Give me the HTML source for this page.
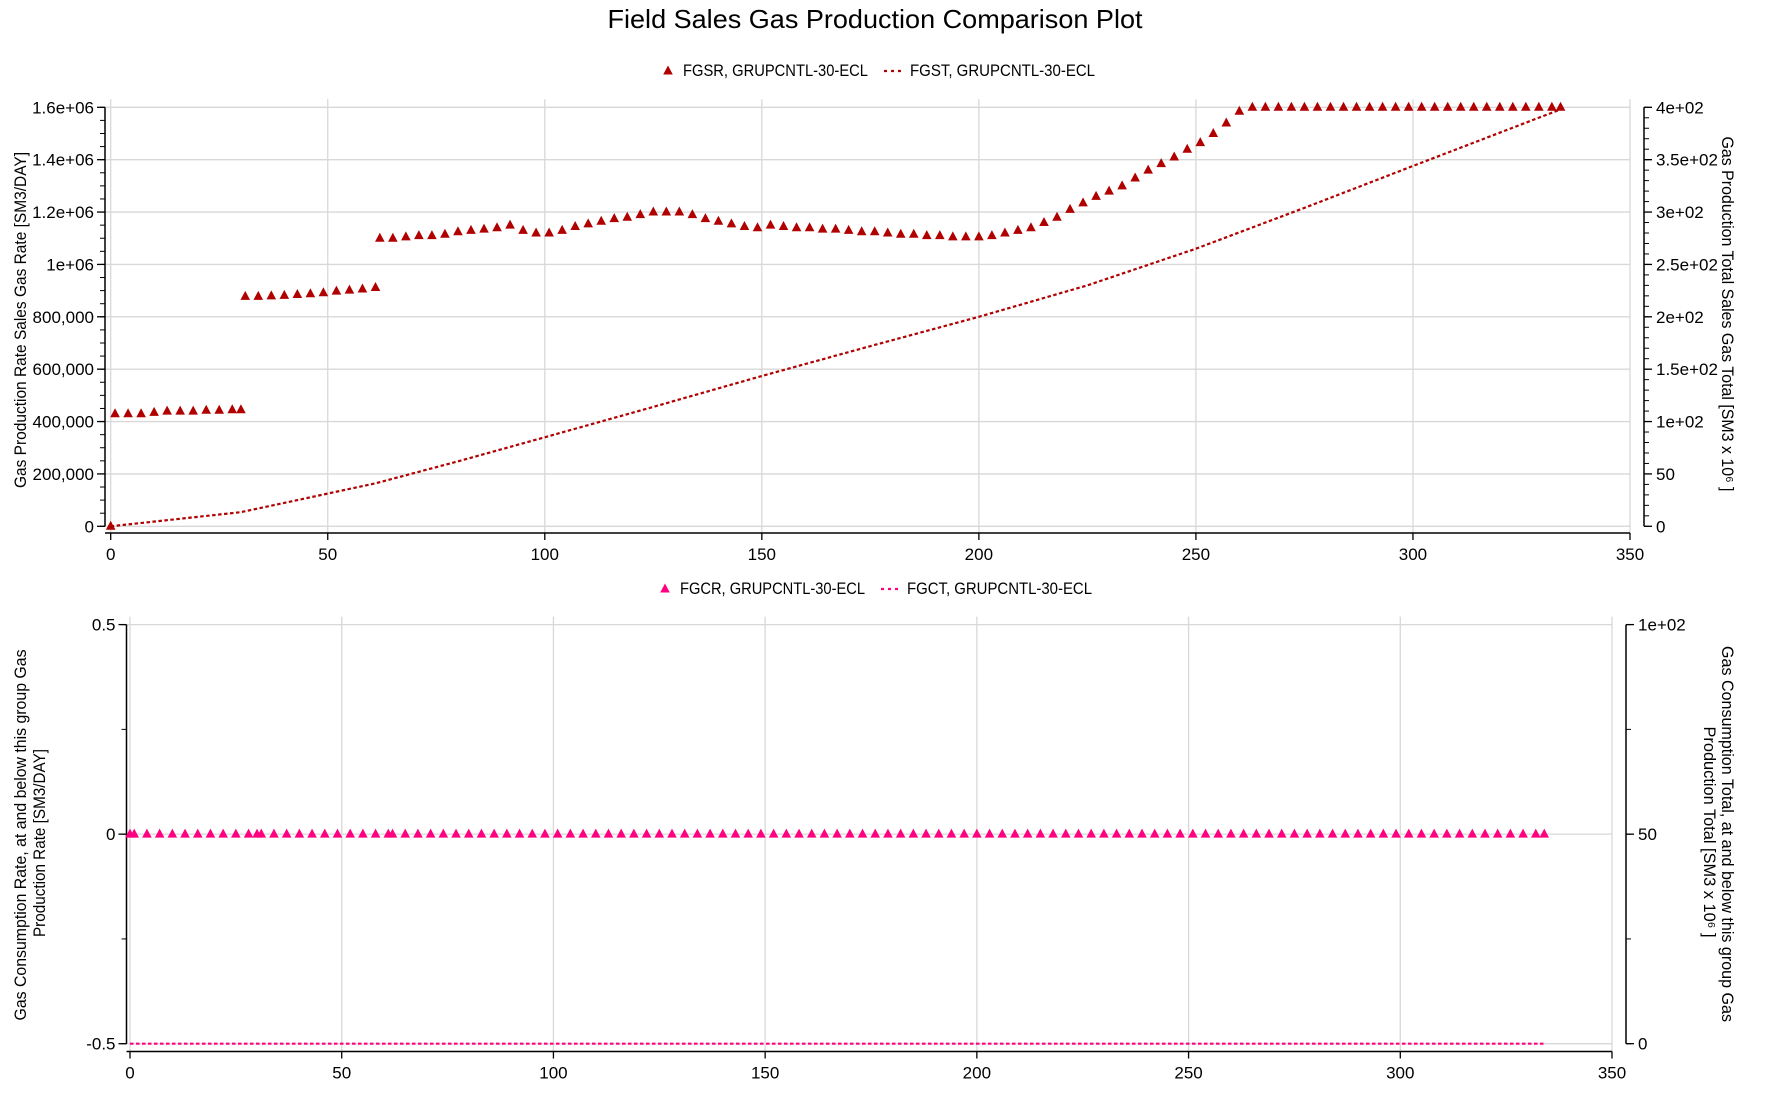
<!DOCTYPE html>
<html><head><meta charset="utf-8">
<style>
html,body{margin:0;padding:0;background:#fff;}
svg{display:block;font-family:"Liberation Sans","DejaVu Sans",sans-serif;}
</style></head>
<body>
<svg id="chart" width="1770" height="1107" viewBox="0 0 1770 1107" xmlns="http://www.w3.org/2000/svg">
<text x="875" y="28" text-anchor="middle" font-size="26" fill="#000" textLength="535" lengthAdjust="spacingAndGlyphs">Field Sales Gas Production Comparison Plot</text>
<g id="topPanel"></g>
<g id="botPanel"></g>
</svg>
<script>
// ---- data ----
const days = [0,1,4,7,10,13,16,19,22,25,28,30,
31,34,37,40,43,46,49,52,55,58,61,
62,65,68,71,74,77,80,83,86,89,92,95,98,101,104,107,110,113,116,119,122,125,128,131,134,137,140,143,146,149,152,155,158,161,164,167,170,173,176,179,182,185,188,191,194,197,200,203,206,209,212,215,218,221,224,227,230,233,236,239,242,245,248,251,254,257,260,263,266,269,272,275,278,281,284,287,290,293,296,299,302,305,308,311,314,317,320,323,326,329,332,334];
const fgsrMillions = [0,0.43,0.43,0.43,0.435,0.44,0.44,0.44,0.443,0.443,0.445,0.445,
0.878,0.878,0.88,0.882,0.885,0.888,0.892,0.898,0.902,0.906,0.912,
1.10,1.10,1.105,1.11,1.11,1.115,1.125,1.13,1.135,1.14,1.15,1.13,1.12,1.12,1.13,1.145,1.155,1.165,1.175,1.18,1.19,1.2,1.2,1.2,1.19,1.175,1.165,1.155,1.145,1.14,1.15,1.145,1.14,1.14,1.135,1.135,1.13,1.125,1.125,1.12,1.115,1.115,1.11,1.11,1.105,1.105,1.105,1.11,1.12,1.13,1.14,1.16,1.18,1.21,1.235,1.26,1.28,1.3,1.33,1.36,1.385,1.41,1.44,1.465,1.5,1.54,1.585,1.6,1.6,1.6,1.6,1.6,1.6,1.6,1.6,1.6,1.6,1.6,1.6,1.6,1.6,1.6,1.6,1.6,1.6,1.6,1.6,1.6,1.6,1.6,1.6,1.6];
const fgstDays = [0,30,61,80,100,125,150,175,200,225,250,275,300,334];
const fgstValues = [0,13.5,41,62,85,114,143.5,172,200,230,265,304,344,398];
const fgcrValues = days.map(()=>0);
const fgctDays = [0,334];
const fgctValues = [0,0];
const xTicks = [0,50,100,150,200,250,300,350];
const topLeftTicks = [0,200000,400000,600000,800000,1000000,1200000,1400000,1600000];
const topLeftLabels = ["0","200,000","400,000","600,000","800,000","1e+06","1.2e+06","1.4e+06","1.6e+06"];
const topRightTicks = [0,50,100,150,200,250,300,350,400];
const topRightLabels = ["0","50","1e+02","1.5e+02","2e+02","2.5e+02","3e+02","3.5e+02","4e+02"];
const botLeftTicks = [-0.5,0,0.5];
const botLeftLabels = ["-0.5","0","0.5"];
const botRightTicks = [0,50,100];
const botRightLabels = ["0","50","1e+02"];

const NS="http://www.w3.org/2000/svg";
function mk(parent,tag,attrs,text){const e=document.createElementNS(NS,tag);for(const k in attrs)e.setAttribute(k,attrs[k]);if(text!==undefined)e.textContent=text;parent.appendChild(e);return e;}
function tri(g,x,y,c){return mk(g,'path',{d:`M${x},${y-5.5} L${x+4.8},${y+3.5} L${x-4.8},${y+3.5} Z`,fill:c});}

function panel(g,o){
  const sx=v=>o.x0+(v-0)/(350)*(o.x1-o.x0);
  const syL=v=>o.yb+(v-o.lmin)/(o.lmax-o.lmin)*(o.yt-o.yb);
  const syR=v=>o.yb+(v-o.rmin)/(o.rmax-o.rmin)*(o.yt-o.yb);
  xTicks.forEach(t=>{const l=mk(g,'line',{x1:sx(t),x2:sx(t),y1:o.yt-8,y2:o.xaxis,stroke:'#d8d8d8','stroke-width':1.3});
    
    });
  o.lt.forEach(t=>{const l=mk(g,'line',{x1:o.ax,x2:o.x1,y1:syL(t),y2:syL(t),stroke:'#d8d8d8','stroke-width':1.3});
    
    });
  mk(g,'line',{x1:o.ax,x2:o.ax,y1:syL(o.lmax),y2:syL(o.lmin),stroke:'#000','stroke-width':1.5});
  for(let v=o.lmin;v<=o.lmax+1e-9;v+=o.lminor){mk(g,'line',{x1:o.ax-5,x2:o.ax,y1:syL(v),y2:syL(v),stroke:'#000'});}
  o.lt.forEach((t,i)=>{mk(g,'line',{x1:o.ax-8,x2:o.ax,y1:syL(t),y2:syL(t),stroke:'#000','stroke-width':1.3});
    const tx=mk(g,'text',{x:o.ax-11,y:syL(t)+6,'text-anchor':'end','font-size':17},o.ll[i]);
    
    });
  mk(g,'line',{x1:o.rx,x2:o.rx,y1:syR(o.rmax),y2:syR(o.rmin),stroke:'#000','stroke-width':1.5});
  for(let v=o.rmin;v<=o.rmax+1e-9;v+=o.rminor){mk(g,'line',{x1:o.rx,x2:o.rx+5,y1:syR(v),y2:syR(v),stroke:'#000'});}
  o.rt.forEach((t,i)=>{mk(g,'line',{x1:o.rx,x2:o.rx+8,y1:syR(t),y2:syR(t),stroke:'#000','stroke-width':1.3});
    const tx=mk(g,'text',{x:o.rx+12,y:syR(t)+6,'font-size':17},o.rl[i]);
    
    });
  mk(g,'line',{x1:o.ax,x2:o.x1,y1:o.xaxis,y2:o.xaxis,stroke:'#000','stroke-width':1.5});
  xTicks.forEach(t=>{mk(g,'line',{x1:sx(t),x2:sx(t),y1:o.xaxis,y2:o.xaxis+7,stroke:'#000','stroke-width':1.3});
    const tx=mk(g,'text',{x:sx(t),y:o.xaxis+27,'text-anchor':'middle','font-size':17},String(t));
    
    });
  const pts=o.lineDays.map((d,i)=>sx(d)+','+syR(o.lineVals[i])).join(' ');
  const pl=mk(g,'polyline',{points:pts,fill:'none',stroke:o.color,'stroke-width':2.2,'stroke-dasharray':'3.5,2.5'});
  
  
  days.forEach((d,i)=>{const t=tri(g,sx(d),syL(o.markVals[i]),o.color);
    
    });
  const lt=tri(g,o.legx,o.legy-5,o.color);
  
  
  const l1=mk(g,'text',{x:o.legx+15,y:o.legy,'font-size':17,textLength:185,lengthAdjust:'spacingAndGlyphs'},o.leg1);
  
  
  mk(g,'line',{x1:o.legx+216,x2:o.legx+237,y1:o.legy-5,y2:o.legy-5,stroke:o.color,'stroke-width':2.2,'stroke-dasharray':'3,4'});
  const l2=mk(g,'text',{x:o.legx+242,y:o.legy,'font-size':17,textLength:185,lengthAdjust:'spacingAndGlyphs'},o.leg2);
  
  
}

const topPanel=document.getElementById('topPanel');
panel(topPanel,{x0:110.7,x1:1630,yt:107.3,yb:526.3,xaxis:533,ax:105,rx:1644,
  lmin:0,lmax:1600000,lminor:50000,lt:topLeftTicks,ll:topLeftLabels,
  rmin:0,rmax:400,rminor:10,rt:topRightTicks,rl:topRightLabels,
  lineDays:fgstDays,lineVals:fgstValues,markVals:fgsrMillions.map(v=>v*1e6),
  color:'#b00000',lineName:'fgst-line',markName:'fgsr-marker',
  legx:668,legy:76,leg1:'FGSR, GRUPCNTL-30-ECL',leg2:'FGST, GRUPCNTL-30-ECL'});
const botPanel=document.getElementById('botPanel');
panel(botPanel,{x0:130,x1:1612,yt:624.6,yb:1043.7,xaxis:1051.5,ax:126.5,rx:1626,
  lmin:-0.5,lmax:0.5,lminor:0.25,lt:botLeftTicks,ll:botLeftLabels,
  rmin:0,rmax:100,rminor:25,rt:botRightTicks,rl:botRightLabels,
  lineDays:fgctDays,lineVals:fgctValues,markVals:fgcrValues,
  color:'#ff0080',lineName:'fgct-line',markName:'fgcr-marker',
  legx:665,legy:594,leg1:'FGCR, GRUPCNTL-30-ECL',leg2:'FGCT, GRUPCNTL-30-ECL'});

const svg=document.getElementById('chart');
function vt(x,y,rot,s,len,name){const t=mk(svg,'text',{transform:`translate(${x},${y}) rotate(${rot})`,'text-anchor':'middle','font-size':16.5,textLength:len,lengthAdjust:'spacingAndGlyphs'},s);
  
  }
vt(26,320,-90,'Gas Production Rate Sales Gas Rate [SM3/DAY]',336,'top-left-axis-title');
vt(1722,314,90,'Gas Production Total Sales Gas Total [SM3 x 10⁶ ]',355,'top-right-axis-title');
vt(26,835,-90,'Gas Consumption Rate, at and below this group Gas',371,'bottom-left-axis-title');
vt(45,843,-90,'Production Rate [SM3/DAY]',188,'bottom-left-axis-title-line2');
vt(1722,834,90,'Gas Consumption Total, at and below this group Gas',376,'bottom-right-axis-title');
vt(1704,832,90,'Production Total [SM3 x 10⁶ ]',211,'bottom-right-axis-title-line2');
</script>
</body></html>
